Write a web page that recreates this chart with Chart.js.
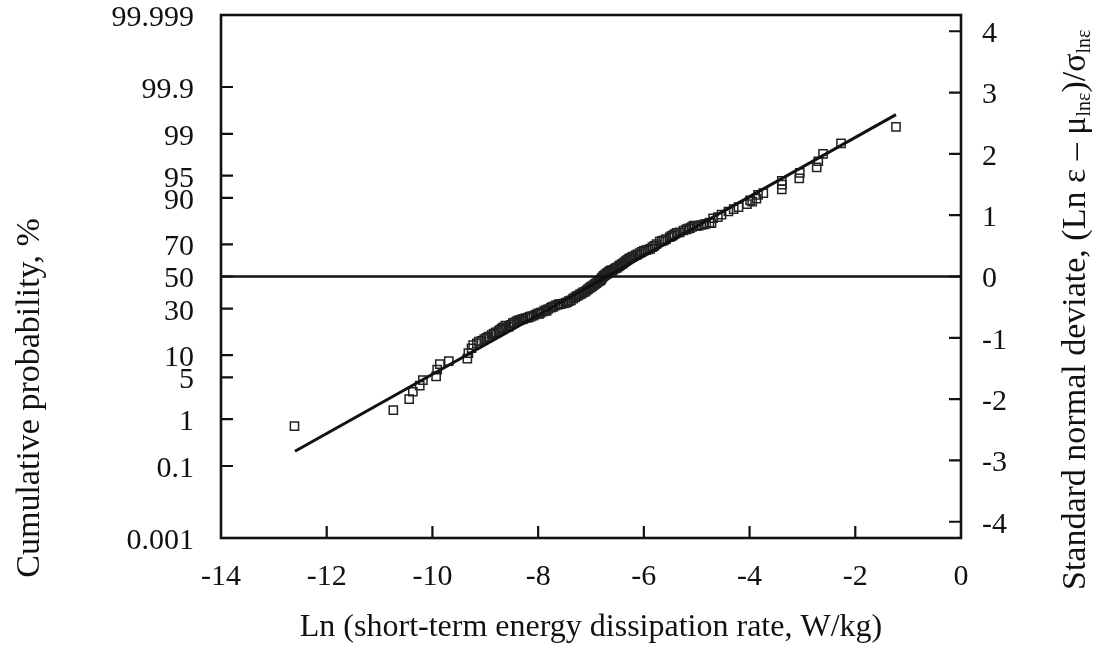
<!DOCTYPE html>
<html>
<head>
<meta charset="utf-8">
<script src="https://cdn.jsdelivr.net/npm/chart.js@4.4.0/dist/chart.umd.min.js"></script>
<style>
  body { margin: 0; background: #fff; }
  #wrap { width: 1100px; height: 647px; }
</style>
</head>
<body>
<div id="wrap"><canvas id="grafica"></canvas></div>
<script>
// Puntos medidos: Ln(epsilon) y desviacion normal estandar
const puntosX = [-12.61, -10.74, -10.44, -10.37, -10.24, -10.18, -9.93, -9.91, -9.86, -9.69,
  -9.34, -9.32, -9.26, -9.23, -9.16, -9.12, -9.07, -9.02, -8.98, -8.94,
  -8.88, -8.84, -8.80, -8.75, -8.72, -8.69, -8.66, -8.62, -8.56, -8.52,
  -8.48, -8.45, -8.41, -8.38, -8.35, -8.31, -8.28, -8.24, -8.19, -8.16,
  -8.14, -8.09, -8.05, -8.00, -7.98, -7.95, -7.90, -7.86, -7.84, -7.81,
  -7.76, -7.74, -7.71, -7.67, -7.62, -7.60, -7.57, -7.52, -7.48, -7.45,
  -7.42, -7.38, -7.34, -7.30, -7.27, -7.24, -7.21, -7.18, -7.15, -7.12,
  -7.09, -7.06, -7.03, -7.00, -6.98, -6.95, -6.92, -6.90, -6.88, -6.86,
  -6.84, -6.83, -6.81, -6.80, -6.79, -6.77, -6.76, -6.74, -6.73, -6.71,
  -6.70, -6.68, -6.66, -6.64, -6.62, -6.60, -6.58, -6.55, -6.52, -6.50,
  -6.47, -6.45, -6.42, -6.40, -6.37, -6.34, -6.31, -6.28, -6.25, -6.22,
  -6.19, -6.15, -6.12, -6.08, -6.04, -6.00, -5.96, -5.92, -5.88, -5.84,
  -5.80, -5.76, -5.70, -5.66, -5.62, -5.58, -5.51, -5.48, -5.45, -5.42,
  -5.38, -5.32, -5.25, -5.20, -5.16, -5.13, -5.09, -5.06, -5.00, -4.96,
  -4.91, -4.86, -4.82, -4.76, -4.72, -4.69, -4.60, -4.53, -4.40, -4.30,
  -4.21, -4.05, -3.99, -3.95, -3.87, -3.84, -3.74, -3.39, -3.39, -3.39,
  -3.06, -3.05, -2.73, -2.70, -2.61, -2.27, -1.23];
const puntosZ = [-2.44, -2.18, -2.00, -1.88, -1.78, -1.69, -1.63, -1.52, -1.43, -1.38,
  -1.34, -1.25, -1.17, -1.12, -1.09, -1.06, -1.05, -1.02, -1.00, -0.98,
  -0.95, -0.93, -0.91, -0.89, -0.87, -0.85, -0.83, -0.80, -0.82, -0.79,
  -0.76, -0.75, -0.73, -0.72, -0.71, -0.70, -0.69, -0.68, -0.67, -0.66,
  -0.65, -0.64, -0.62, -0.60, -0.61, -0.59, -0.57, -0.55, -0.56, -0.53,
  -0.51, -0.50, -0.49, -0.47, -0.46, -0.45, -0.45, -0.44, -0.43, -0.42,
  -0.40, -0.39, -0.36, -0.34, -0.32, -0.31, -0.29, -0.28, -0.26, -0.25,
  -0.23, -0.21, -0.19, -0.17, -0.16, -0.14, -0.12, -0.11, -0.09, -0.08,
  -0.07, -0.06, -0.05, -0.03, -0.02, 0.00, 0.01, 0.02, 0.03, 0.04,
  0.05, 0.06, 0.08, 0.09, 0.10, 0.10, 0.11, 0.13, 0.14, 0.15,
  0.17, 0.18, 0.20, 0.21, 0.23, 0.25, 0.27, 0.29, 0.30, 0.32,
  0.33, 0.35, 0.36, 0.38, 0.40, 0.42, 0.43, 0.44, 0.45, 0.48,
  0.50, 0.53, 0.57, 0.58, 0.59, 0.61, 0.64, 0.66, 0.67, 0.69,
  0.71, 0.72, 0.75, 0.77, 0.78, 0.79, 0.81, 0.83, 0.82, 0.83,
  0.84, 0.85, 0.86, 0.88, 0.87, 0.95, 0.97, 1.01, 1.06, 1.10,
  1.13, 1.18, 1.24, 1.22, 1.27, 1.33, 1.36, 1.42, 1.50, 1.56,
  1.60, 1.69, 1.78, 1.88, 2.00, 2.17, 2.44];

// Recta de ajuste
const rectaX = [-12.6, -1.23];
const rectaZ = [-2.85, 2.64];

// Linea horizontal del 50 %
const refX = [-14, 0];
const refZ = [0, 0];

// Eje izquierdo: probabilidad acumulada (%)
const probValores = [0.001, 0.1, 1, 5, 10, 30, 50, 70, 90, 95, 99, 99.9, 99.999];
const probEtiquetas = ['0.001', '0.1', '1', '5', '10', '30', '50', '70', '90', '95', '99', '99.9', '99.999'];

// Eje derecho y eje x
const desvTicks = [-4, -3, -2, -1, 0, 1, 2, 3, 4];
const ejeXTicks = [-14, -12, -10, -8, -6, -4, -2, 0];

/**
 * Funcion probit
 * Inversa de la normal estandar (aproximacion de Acklam), para ubicar las marcas de probabilidad
 */
function probit(p) {
  const a = [-3.969683028665376e+01, 2.209460984245205e+02, -2.759285104469687e+02, 1.383577518672690e+02, -3.066479806614716e+01, 2.506628277459239e+00];
  const b = [-5.447609879822406e+01, 1.615858368580409e+02, -1.556989798598866e+02, 6.680131188771972e+01, -1.328068155288572e+01];
  const c = [-7.784894002430293e-03, -3.223964580411365e-01, -2.400758277161838e+00, -2.549732539343734e+00, 4.374664141464968e+00, 2.938163982698783e+00];
  const d = [7.784695709041462e-03, 3.224671290700398e-01, 2.445134137142996e+00, 3.754408661907416e+00];
  const pl = 0.02425;
  let q, r;
  if (p < pl) {
    q = Math.sqrt(-2 * Math.log(p));
    return (((((c[0]*q+c[1])*q+c[2])*q+c[3])*q+c[4])*q+c[5]) / ((((d[0]*q+d[1])*q+d[2])*q+d[3])*q+1);
  }
  if (p > 1 - pl) {
    q = Math.sqrt(-2 * Math.log(1 - p));
    return -(((((c[0]*q+c[1])*q+c[2])*q+c[3])*q+c[4])*q+c[5]) / ((((d[0]*q+d[1])*q+d[2])*q+d[3])*q+1);
  }
  q = p - 0.5; r = q * q;
  return (((((a[0]*r+a[1])*r+a[2])*r+a[3])*r+a[4])*r+a[5])*q / (((((b[0]*r+b[1])*r+b[2])*r+b[3])*r+b[4])*r+1);
}

const zMin = probit(0.00001);
const zMax = probit(0.99999);
const fuente = 'Liberation Serif, Times New Roman, serif';
const negro = '#111';

// Marcas hacia dentro, marco y titulos verticales
const marcasYMarco = {
  id: 'marcasYMarco',
  afterDatasetsDraw(chart) {
    const { ctx, chartArea: a, scales } = chart;
    ctx.save();
    ctx.strokeStyle = negro;
    ctx.lineWidth = 2.2;
    ctx.beginPath();
    ejeXTicks.slice(1, -1).forEach(v => {
      const px = scales.x.getPixelForValue(v);
      ctx.moveTo(px, a.bottom); ctx.lineTo(px, a.bottom - 12);
    });
    probValores.slice(1, -1).forEach(p => {
      const py = scales.y.getPixelForValue(probit(p / 100));
      ctx.moveTo(a.left, py); ctx.lineTo(a.left + 12, py);
    });
    desvTicks.forEach(v => {
      const py = scales.y2.getPixelForValue(v);
      ctx.moveTo(a.right, py); ctx.lineTo(a.right - 12, py);
    });
    ctx.stroke();
    ctx.lineWidth = 2.6;
    ctx.strokeRect(a.left, a.top, a.right - a.left, a.bottom - a.top);

    ctx.fillStyle = negro;
    // titulo izquierdo
    ctx.save();
    ctx.translate(30, 398);
    ctx.rotate(-Math.PI / 2);
    ctx.font = '34px ' + fuente;
    ctx.textAlign = 'center';
    ctx.textBaseline = 'middle';
    ctx.fillText('Cumulative probability, %', 0, 0);
    ctx.restore();

    // titulo derecho con subindices
    ctx.save();
    ctx.translate(1076, 590);
    ctx.rotate(-Math.PI / 2);
    ctx.textAlign = 'left';
    ctx.textBaseline = 'middle';
    const partes = [
      ['Standard normal deviate, (Ln \u03b5 \u2013 \u03bc', false],
      ['ln\u03b5', true],
      [')/\u03c3', false],
      ['ln\u03b5', true]
    ];
    let xx = 0;
    partes.forEach(([txt, sub]) => {
      ctx.font = (sub ? '20px ' : '34px ') + fuente;
      ctx.fillText(txt, xx, sub ? 9 : 0);
      xx += ctx.measureText(txt).width;
    });
    ctx.restore();
    ctx.restore();
  }
};

function sinMargenVertical(s) {
  s.paddingTop = 0;
  s.paddingBottom = 0;
}

function cargarGrafica() {
  const datos = puntosX.map((x, i) => ({ x: x, y: puntosZ[i] }));
  const recta = rectaX.map((x, i) => ({ x: x, y: rectaZ[i] }));
  const ref = refX.map((x, i) => ({ x: x, y: refZ[i] }));
  const fTicks = { family: fuente, size: 30, lineHeight: 1 };
  const sinRejilla = { display: false, drawTicks: false };

  new Chart(document.getElementById('grafica'), {
    type: 'scatter',
    data: {
      datasets: [
        { data: ref, showLine: true, borderColor: negro, borderWidth: 2.4, pointRadius: 0 },
        { data: recta, showLine: true, borderColor: negro, borderWidth: 3, pointRadius: 0 },
        { data: datos, pointStyle: 'rect', pointRadius: 5.8, borderColor: '#222', borderWidth: 1.5,
          backgroundColor: 'rgba(0,0,0,0)' }
      ]
    },
    options: {
      responsive: true,
      maintainAspectRatio: false,
      animation: false,
      events: [],
      layout: { padding: { top: 15, left: 0, right: 0, bottom: 0 } },
      plugins: { legend: { display: false }, tooltip: { enabled: false } },
      scales: {
        x: {
          type: 'linear', position: 'bottom', min: -14, max: 0,
          afterBuildTicks: s => { s.ticks = ejeXTicks.map(v => ({ value: v })); },
          afterFit: s => { s.height = 109; s.paddingLeft = 0; s.paddingRight = 0; },
          grid: sinRejilla, border: { display: false },
          ticks: { font: fTicks, color: negro, padding: 24, maxRotation: 0, autoSkip: false },
          title: { display: true, text: 'Ln (short-term energy dissipation rate, W/kg)',
                   font: { family: fuente, size: 32 }, color: negro, padding: 0 }
        },
        y: {
          type: 'linear', position: 'left', min: zMin, max: zMax,
          afterBuildTicks: s => { s.ticks = probValores.map(p => ({ value: probit(p / 100) })); },
          afterFit: s => { s.width = 221; sinMargenVertical(s); },
          grid: sinRejilla, border: { display: false },
          ticks: { font: fTicks, color: negro, padding: 27, labelOffset: 3, autoSkip: false,
                   callback: (v, i) => probEtiquetas[i] }
        },
        y2: {
          type: 'linear', position: 'right', min: zMin, max: zMax,
          afterBuildTicks: s => { s.ticks = desvTicks.map(v => ({ value: v })); },
          afterFit: s => { s.width = 139; sinMargenVertical(s); },
          grid: sinRejilla, border: { display: false },
          ticks: { font: fTicks, color: negro, padding: 21, labelOffset: 3, autoSkip: false }
        }
      }
    },
    plugins: [marcasYMarco]
  });
}

cargarGrafica();
</script>
</body>
</html>
